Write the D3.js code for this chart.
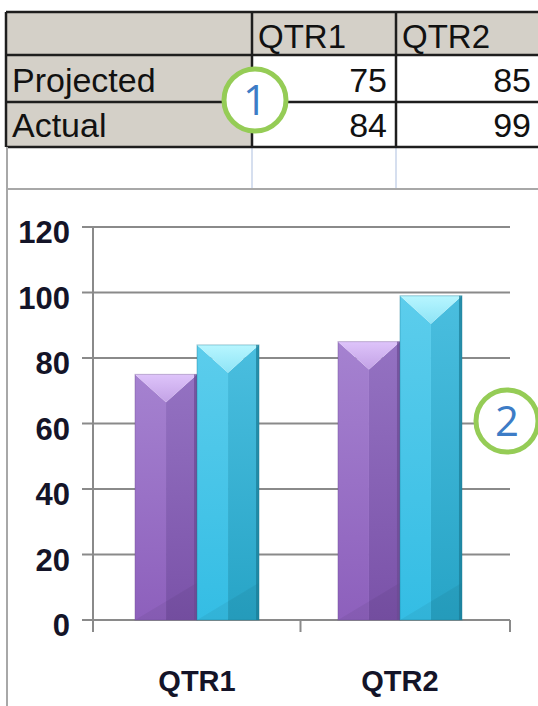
<!DOCTYPE html>
<html><head><meta charset="utf-8">
<script src="https://cdn.jsdelivr.net/npm/d3@7"></script>
<style>body{margin:0;background:#fff;overflow:hidden} svg{display:block}</style>
</head><body>
<svg id="c" width="538" height="706"></svg>
<script>
// ---- data ----
const categories = ["QTR1", "QTR2"];
const seriesNames = ["Projected", "Actual"];
const projected = [75, 85];
const actual = [84, 99];
const yTicks = [0, 20, 40, 60, 80, 100, 120];
const callouts = ["1", "2"];

const seriesValues = [projected, actual];
const svg = d3.select("#c");
const defs = svg.append("defs");

// ---- worksheet table ----
const colX = [6, 252, 396, 540];
const rowY = [12, 55, 102, 147, 189];
const tableFont = "'Liberation Sans', Arial, sans-serif";
const gray = "#d4d0c8";

svg.append("rect").attr("x", colX[0]).attr("y", rowY[0]).attr("width", 538 - colX[0]).attr("height", rowY[1] - rowY[0]).attr("fill", gray);
svg.append("rect").attr("x", colX[0]).attr("y", rowY[1]).attr("width", colX[1] - colX[0]).attr("height", rowY[3] - rowY[1]).attr("fill", gray);

// empty row faint grid
[colX[1], colX[2]].forEach(x => svg.append("line").attr("x1", x).attr("x2", x).attr("y1", rowY[3]).attr("y2", rowY[4]).attr("stroke", "#c9d5ea").attr("stroke-width", 1.5));

// table borders
const tb = svg.append("g").attr("stroke", "#1e1e1e").attr("stroke-width", 2.5);
rowY.slice(0, 4).forEach(y => tb.append("line").attr("x1", colX[0]).attr("x2", 538).attr("y1", y).attr("y2", y));
colX.slice(0, 3).forEach(x => tb.append("line").attr("x1", x).attr("x2", x).attr("y1", rowY[0]).attr("y2", rowY[3]));

// header text
categories.forEach((c, i) => svg.append("text").attr("x", colX[i + 1] + 6).attr("y", rowY[1] - 7)
  .attr("font-family", tableFont).attr("font-size", 33).attr("fill", "#111").text(c));
seriesNames.forEach((s, j) => {
  svg.append("text").attr("x", colX[0] + 6).attr("y", rowY[j + 2] - 10)
    .attr("font-family", tableFont).attr("font-size", 34).attr("fill", "#111").text(s);
  categories.forEach((c, i) => svg.append("text").attr("x", colX[i + 2] - 9).attr("y", rowY[j + 2] - 10)
    .attr("text-anchor", "end").attr("font-family", tableFont).attr("font-size", 34).attr("fill", "#111")
    .text(seriesValues[j][i]));
});

// ---- chart frame ----
svg.append("line").attr("x1", 6).attr("x2", 538).attr("y1", rowY[4]).attr("y2", rowY[4]).attr("stroke", "#a8a8a8").attr("stroke-width", 2);
svg.append("line").attr("x1", 7).attr("x2", 7).attr("y1", rowY[3]).attr("y2", 706).attr("stroke", "#a8a8a8").attr("stroke-width", 2);

// ---- scales ----
const y = d3.scaleLinear().domain([0, 120]).range([620, 227]);
const x0 = d3.scaleBand().domain(categories).range([93, 504]).paddingInner(0.389).paddingOuter(0.207);
const x1 = d3.scaleBand().domain(seriesNames).range([0, x0.bandwidth()]);
const axisColor = "#8a8a8a";
const boldFont = "'Liberation Sans', Arial, sans-serif";
const plotRight = 510;

// gridlines + y ticks
const grid = svg.append("g");
yTicks.forEach(t => {
  grid.append("line").attr("x1", 82).attr("x2", plotRight).attr("y1", y(t)).attr("y2", y(t))
    .attr("stroke", axisColor).attr("stroke-width", 2);
  grid.append("text").attr("x", 70).attr("y", y(t) + 16).attr("text-anchor", "end")
    .attr("font-family", boldFont).attr("font-weight", "bold").attr("font-size", 31).attr("fill", "#141428").text(t);
});
// y axis line
svg.append("line").attr("x1", 93).attr("x2", 93).attr("y1", y(120)).attr("y2", y(0) + 12).attr("stroke", axisColor).attr("stroke-width", 2);
// x ticks at category boundaries
const mid = x0(categories[1]) - x0.step() * x0.paddingInner() / 2 + 2;
[mid, plotRight].forEach(b => svg.append("line").attr("x1", b).attr("x2", b).attr("y1", y(0)).attr("y2", y(0) + 12).attr("stroke", axisColor).attr("stroke-width", 2));
// x labels
categories.forEach(c => svg.append("text").attr("x", x0(c) + x0.bandwidth() / 2).attr("y", 691).attr("text-anchor", "middle")
  .attr("font-family", boldFont).attr("font-weight", "bold").attr("font-size", 29).attr("fill", "#141428").text(c));

// ---- gradients ----
const pal = {
  Projected: { top: ["#dec4fa", "#c3a2e6"], left: ["#a582d0", "#8d60bc"], right: ["#9472c2", "#7a52a8"], edge: "#6b4a92" },
  Actual: { top: ["#b8f6ff", "#8ee4f6"], left: ["#5ccdec", "#34bde4"], right: ["#4abedf", "#27a4c6"], edge: "#1a7a94" }
};
function vgrad(id, c) {
  const g = defs.append("linearGradient").attr("id", id).attr("x1", 0).attr("x2", 0).attr("y1", 0).attr("y2", 1);
  g.append("stop").attr("offset", "0%").attr("stop-color", c[0]);
  g.append("stop").attr("offset", "100%").attr("stop-color", c[1]);
}
seriesNames.forEach((s, k) => { vgrad("top" + k, pal[s].top); vgrad("left" + k, pal[s].left); vgrad("right" + k, pal[s].right); });

// ---- bars ----
const bars = svg.append("g");
categories.forEach((c, i) => {
  seriesNames.forEach((s, k) => {
    const v = seriesValues[k][i];
    const xa = x0(c) + x1(s), xb = xa + x1.bandwidth(), xc = (xa + xb) / 2;
    const yt = y(v), yb = y(0);
    const d = x1.bandwidth() / 2 * 0.9;
    const g = bars.append("g");
    const P = pts => pts.map(p => p.join(",")).join(" ");
    g.append("polygon").attr("points", P([[xa, yt], [xc, yt + d], [xc, yb], [xa, yb]])).attr("fill", `url(#left${k})`);
    g.append("polygon").attr("points", P([[xc, yt + d], [xb, yt], [xb, yb], [xc, yb]])).attr("fill", `url(#right${k})`);
    g.append("polygon").attr("points", P([[xa, yt], [xb, yt], [xc, yt + d]])).attr("fill", `url(#top${k})`);
    g.append("polygon").attr("points", P([[xa, yb], [xb, yb], [xb, yb - x1.bandwidth() * 0.6]])).attr("fill", "#000").attr("opacity", 0.05);
    g.append("rect").attr("x", xb - 3).attr("y", yt).attr("width", 3).attr("height", yb - yt).attr("fill", pal[s].edge).attr("opacity", 0.7);
    g.append("rect").attr("x", xa).attr("y", yt).attr("width", xb - xa).attr("height", yb - yt)
      .attr("fill", "none").attr("stroke", pal[s].edge).attr("stroke-opacity", 0.4).attr("stroke-width", 1);
  });
});

// ---- callouts ----
const calloutPos = [[255, 100], [507, 421]];
callouts.forEach((t, i) => {
  const [cx, cy] = calloutPos[i];
  svg.append("circle").attr("cx", cx).attr("cy", cy).attr("r", 31).attr("fill", "#fff").attr("stroke", "#95cc56").attr("stroke-width", 5);
  svg.append("text").attr("x", cx).attr("y", cy + 15).attr("text-anchor", "middle")
    .attr("font-family", "'Open Sans', sans-serif").attr("font-size", 42).attr("fill", "#3d7cc6").text(t);
});
</script>
</body></html>
